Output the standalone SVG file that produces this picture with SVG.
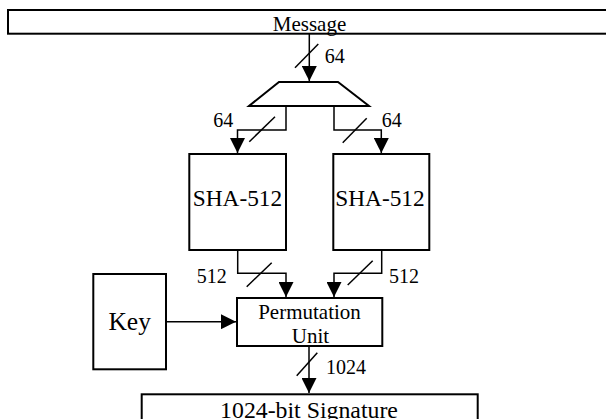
<svg xmlns="http://www.w3.org/2000/svg" width="606" height="419" viewBox="0 0 606 419">
<style>
.box{fill:#fff;stroke:#000;stroke-width:2}
.ln{fill:none;stroke:#000;stroke-width:1.5}
.sl{fill:none;stroke:#000;stroke-width:1.5}
text{font-family:"Liberation Serif","Times New Roman",serif;fill:#000}
.lbl{font-size:20px}
.mid{text-anchor:middle}
</style>
<defs>
<marker id="ah" markerUnits="userSpaceOnUse" markerWidth="15" markerHeight="15" refX="15" refY="7.5" orient="auto" viewBox="0 0 15 15">
<path d="M0,0 L15,7.5 L0,15 z" fill="#000"/>
</marker>
</defs>
<rect width="606" height="419" fill="#fff"/>
<g id="message">
<rect class="box" x="8" y="10" width="620" height="23.7"/>
<text class="mid" x="309.5" y="31" font-size="21">Message</text>
</g>
<g id="splitter">
<polygon class="box" points="279,82 338,82 369,106 249,106"/>
</g>
<g id="sha1">
<rect class="box" x="189.3" y="154" width="96.7" height="96"/>
<text class="mid" x="237.5" y="206" font-size="23.3">SHA-512</text>
</g>
<g id="sha2">
<rect class="box" x="333.3" y="154" width="96" height="96"/>
<text class="mid" x="380" y="206" font-size="23.3">SHA-512</text>
</g>
<g id="key">
<rect class="box" x="93.3" y="274" width="72.7" height="95.3"/>
<text class="mid" x="129.7" y="330" font-size="25.5">Key</text>
</g>
<g id="perm">
<rect class="box" x="237" y="298" width="145.3" height="48"/>
<text class="mid" x="309.5" y="318.5" font-size="21">Permutation</text>
<text class="mid" x="310.5" y="343.3" font-size="21">Unit</text>
</g>
<g id="signature">
<rect class="box" x="141.7" y="394.3" width="336" height="40"/>
<text class="mid" x="309" y="418" font-size="23.8">1024-bit Signature</text>
</g>
<g id="connectors">
<line class="ln" x1="309.3" y1="34" x2="309.3" y2="81" marker-end="url(#ah)"/>
<line class="sl" x1="295" y1="67.7" x2="318.3" y2="44"/>
<polyline class="ln" points="286,106 286,130 237.5,130 237.5,153" marker-end="url(#ah)"/>
<line class="sl" x1="249.3" y1="141.7" x2="275" y2="116.7"/>
<polyline class="ln" points="334,106 334,130 381.3,130 381.3,153" marker-end="url(#ah)"/>
<line class="sl" x1="342.7" y1="142.7" x2="366.7" y2="118.3"/>
<polyline class="ln" points="237.7,250 237.7,273.3 286,273.3 286,297" marker-end="url(#ah)"/>
<line class="sl" x1="246.7" y1="286.7" x2="271.7" y2="262.7"/>
<polyline class="ln" points="381.7,250 381.7,273.3 334,273.3 334,297" marker-end="url(#ah)"/>
<line class="sl" x1="347.7" y1="285" x2="372.7" y2="260.7"/>
<line class="ln" x1="166" y1="321.7" x2="236" y2="321.7" marker-end="url(#ah)"/>
<line class="ln" x1="309" y1="346" x2="309" y2="393" marker-end="url(#ah)"/>
<line class="sl" x1="296.7" y1="375.7" x2="317.3" y2="352.7"/>
</g>
<g id="labels">
<text class="lbl" x="324.7" y="63.3">64</text>
<text class="lbl" x="213.3" y="127">64</text>
<text class="lbl" x="381.7" y="127">64</text>
<text class="lbl" x="196.7" y="283">512</text>
<text class="lbl" x="389" y="283">512</text>
<text class="lbl" x="326" y="374">1024</text>
</g>
</svg>
